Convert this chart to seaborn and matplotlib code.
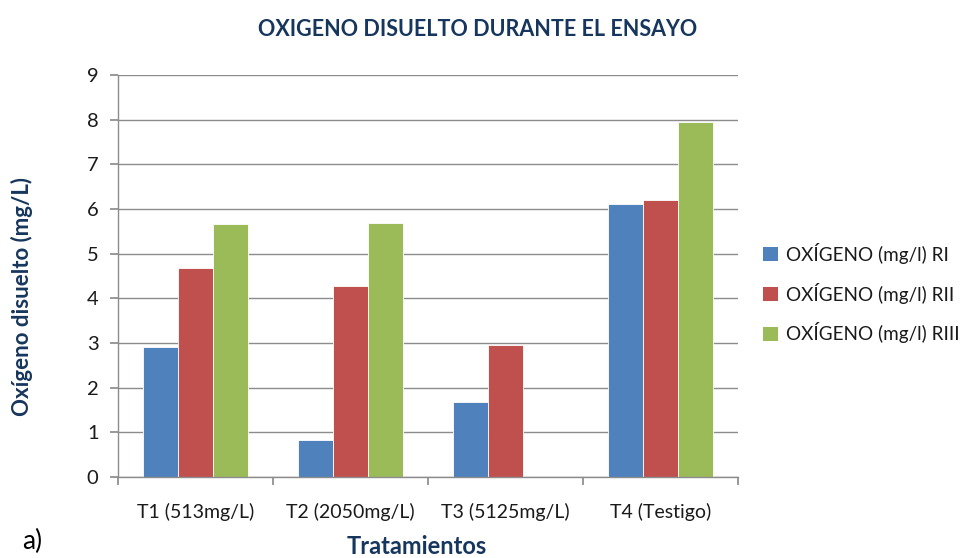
import numpy as np
import pandas as pd
import matplotlib
matplotlib.use("Agg")
import matplotlib.pyplot as plt
import seaborn as sns

categories = ["T1 (513mg/L)", "T2 (2050mg/L)", "T3 (5125mg/L)", "T4 (Testigo)"]
series_names = ["OXÍGENO (mg/l) RI", "OXÍGENO (mg/l) RII", "OXÍGENO (mg/l) RIII"]
ri = [2.90, 0.82, 1.68, 6.12]
rii = [4.69, 4.28, 2.95, 6.20]
riii = [5.66, 5.68, 0.0, 7.95]
colors = ["#4F81BD", "#C0504D", "#9BBB59"]

rows = []
for name, vals in zip(series_names, [ri, rii, riii]):
    for c, v in zip(categories, vals):
        rows.append({"cat": c, "serie": name, "val": v})
df = pd.DataFrame(rows)

sns.set_theme(style="white")
plt.rcParams['font.family'] = ['Lato', 'DejaVu Sans']

fig = plt.figure(figsize=(9.72, 5.58), dpi=100)
ax = fig.add_axes([118/972, 1-477/558, (738-118)/972, (477-75)/558])

sns.barplot(data=df, x="cat", y="val", hue="serie", order=categories,
            hue_order=series_names, palette=colors, width=0.68, gap=0,
            errorbar=None, ax=ax, edgecolor="white", linewidth=0.6, saturation=1)

ax.set_xlim(-0.5, 3.5)
ax.set_ylim(0, 9)
ax.set_yticks(range(0, 10))
ax.yaxis.grid(True, color="#8C8C8C", linewidth=1.0)
ax.set_axisbelow(True)
for s in ["top", "right"]:
    ax.spines[s].set_visible(False)
for s in ["left", "bottom"]:
    ax.spines[s].set_color("#8C8C8C")
    ax.spines[s].set_linewidth(1.0)

ax.set_xticks([-0.5, 0.5, 1.5, 2.5, 3.5])
ax.set_xticklabels([])
ax.set_xticks(range(4), minor=True)
ax.set_xticklabels(categories, minor=True, fontsize=14, color="#1a1a1a")
ax.tick_params(axis="x", which="major", length=6, color="#8C8C8C", direction="out", bottom=True)
ax.tick_params(axis="x", which="minor", length=0, pad=19)
ax.tick_params(axis="y", length=6, color="#8C8C8C", direction="out", left=True,
               labelsize=14.5, labelcolor="#1a1a1a", pad=8)
ax.set_xlabel("")
ax.set_ylabel("")

ax.get_legend().remove()
handles = [plt.Rectangle((0, 0), 1, 1, facecolor=c, edgecolor="none") for c in colors]
fig.legend(handles, series_names, loc="center left", bbox_to_anchor=(757/972, 1-293/558),
           frameon=False, fontsize=13.6, handlelength=0.8, handleheight=0.8,
           handletextpad=0.45, labelspacing=1.0, labelcolor="#1a1a1a",
           borderaxespad=0, borderpad=0.3)

navy = "#17365D"
fig.text(478/972, 1-30/558, "OXIGENO DISUELTO DURANTE EL ENSAYO", ha="center", va="center",
         fontsize=15.5, fontweight="bold", color=navy)
fig.text(22/972, 1-296/558, "Oxígeno disuelto (mg/L)", ha="center", va="center",
         rotation=90, fontsize=16, fontweight="bold", color=navy)
fig.text(417/972, 1-547/558, "Tratamientos", ha="center", va="center",
         fontsize=17, fontweight="bold", color=navy)
fig.text(22/972, 1-541/558, "a)", ha="left", va="center", fontsize=19, color="black")

fig.savefig("out.png", dpi=100)
